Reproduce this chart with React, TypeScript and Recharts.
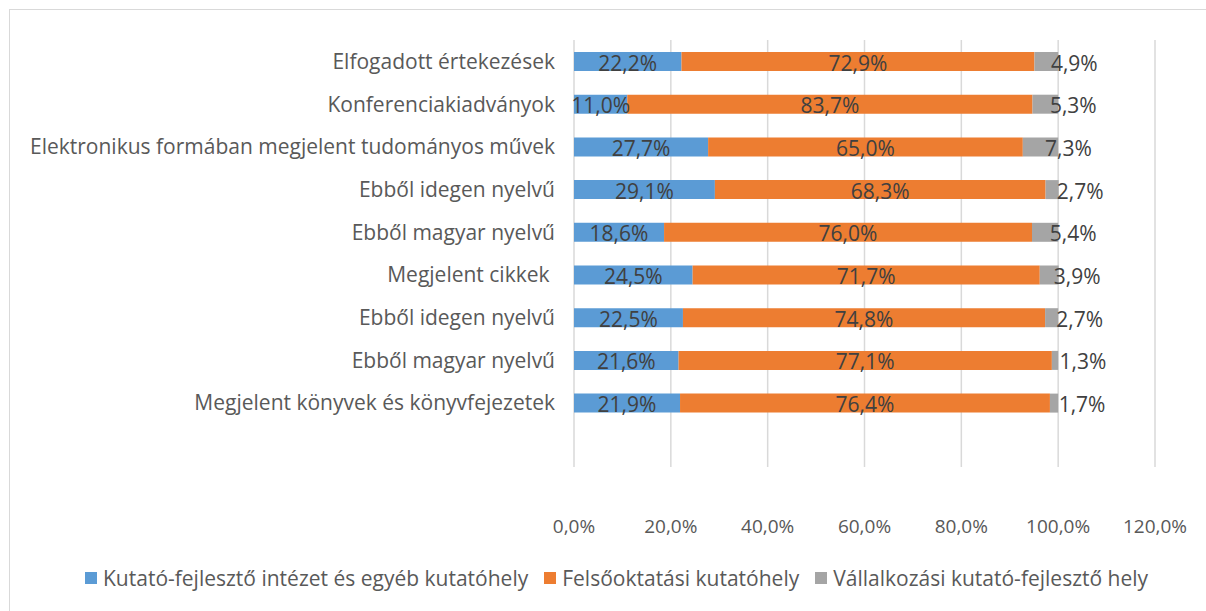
import { BarChart, Bar, XAxis, YAxis, CartesianGrid, Legend, LabelList } from "recharts";

const FONT = "'Open Sans', sans-serif";

const categories = [
  "Elfogadott értekezések",
  "Konferenciakiadványok",
  "Elektronikus formában megjelent tudományos művek",
  "Ebből idegen nyelvű",
  "Ebből magyar nyelvű",
  "Megjelent cikkek\u00a0",
  "Ebből idegen nyelvű",
  "Ebből magyar nyelvű",
  "Megjelent könyvek és könyvfejezetek",
  "",
];
const kutatoIntezet = [22.2, 11.0, 27.7, 29.1, 18.6, 24.5, 22.5, 21.6, 21.9, null];
const felsooktatas = [72.9, 83.7, 65.0, 68.3, 76.0, 71.7, 74.8, 77.1, 76.4, null];
const vallalkozasi = [4.9, 5.3, 7.3, 2.7, 5.4, 3.9, 2.7, 1.3, 1.7, null];
const xTicks = [0, 20, 40, 60, 80, 100, 120];

const SERIES = [
  { key: "kfi", name: "Kutató-fejlesztő intézet és egyéb kutatóhely", color: "#5b9bd5" },
  { key: "felso", name: "Felsőoktatási kutatóhely", color: "#ed7d31" },
  { key: "vall", name: "Vállalkozási kutató-fejlesztő hely", color: "#a5a5a5" },
] as const;

const data = categories.map((cat, i) => ({
  cat,
  kfi: kutatoIntezet[i],
  felso: felsooktatas[i],
  vall: vallalkozasi[i],
}));

const pct = (v: number) => v.toFixed(1).replace(".", ",") + "%";

function makeLabel(shift: number) {
  return (props: any) => {
    const { x, y, width, height, value } = props;
    if (value == null) return null;
    return (
      <text x={x + width / 2 + shift} y={y + height / 2 + 1} textAnchor="middle" dominantBaseline="central"
        fill="#404040" fontSize={21} fontFamily={FONT}>
        {pct(value)}
      </text>
    );
  };
}

// legend drawn in series order (recharts would sort it otherwise)
function LegendContent() {
  return (
    <div style={{ display: "flex", gap: 16, fontFamily: FONT, fontSize: 21, color: "#595959", whiteSpace: "nowrap" }}>
      {SERIES.map((s) => (
        <div key={s.key} style={{ display: "flex", alignItems: "center" }}>
          <span style={{ width: 12, height: 12, background: s.color, marginRight: 6, display: "inline-block" }} />
          {s.name}
        </div>
      ))}
    </div>
  );
}

export default function App() {
  return (
    <div style={{ position: "absolute", left: 0, top: 0, width: 1206, height: 611, background: "#fff" }}>
      <div style={{ position: "absolute", left: 9, top: 9, width: 1197, height: 602, borderLeft: "1px solid #d9d9d9", borderTop: "1px solid #d9d9d9", boxSizing: "border-box" }} />
      <BarChart width={1206} height={611} data={data} layout="vertical" barSize={19}
        margin={{ top: 40, right: 51, left: 10, bottom: 86 }}>
        <CartesianGrid horizontal={false} stroke="#d9d9d9" strokeWidth={1.5} />
        <XAxis type="number" domain={[0, 120]} ticks={xTicks} tickFormatter={pct} interval={0}
          axisLine={false} tickLine={false} height={30} tickMargin={47}
          tick={{ fill: "#595959", fontSize: 19, fontFamily: FONT }} />
        <YAxis type="category" dataKey="cat" width={564} axisLine={false} tickLine={false} tickSize={0} tickMargin={19}
          interval={0} tick={{ fill: "#595959", fontSize: 21, fontFamily: FONT }} />
        <Legend verticalAlign="bottom" content={<LegendContent />}
          wrapperStyle={{ left: 85, top: 564, width: "auto" }} />
        {SERIES.map((s) => (
          <Bar key={s.key} dataKey={s.key} name={s.name} stackId="a" fill={s.color} isAnimationActive={false}>
            <LabelList dataKey={s.key} content={makeLabel(s.key === "vall" ? 28 : 0)} />
          </Bar>
        ))}
      </BarChart>
    </div>
  );
}
